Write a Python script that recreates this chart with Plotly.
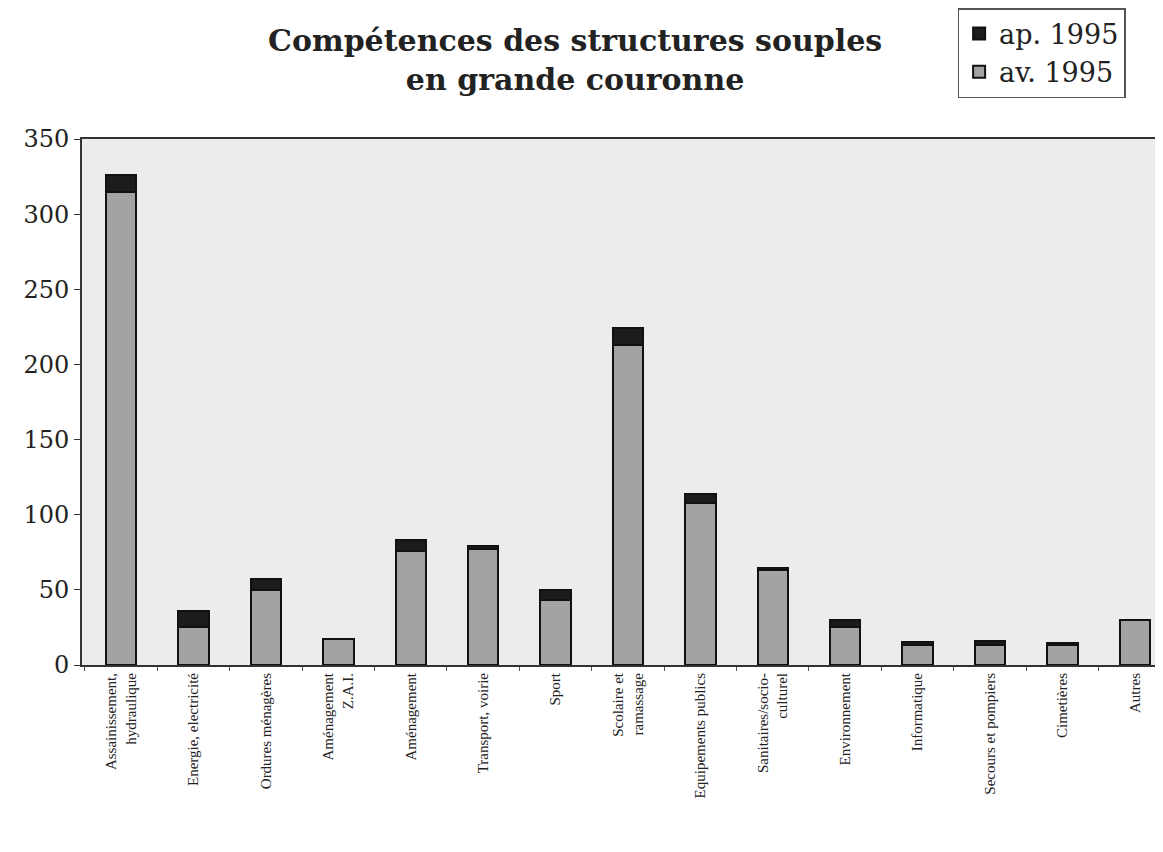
import plotly.graph_objects as go

categories = [
    "Assainissement,<br>hydraulique",
    "Energie, electricité",
    "Ordures ménagères",
    "Aménagement<br>Z.A.I.",
    "Aménagement",
    "Transport, voirie",
    "Sport",
    "Scolaire et<br>ramassage",
    "Equipements publics",
    "Sanitaires/socio-<br>culturel",
    "Environnement",
    "Informatique",
    "Secours et pompiers",
    "Cimetières",
    "Autres",
]
av_1995 = [315, 25, 50, 17, 76, 77, 43, 213, 108, 63, 25, 13, 13, 13, 30]
ap_1995 = [11, 11, 7, 0, 7, 2.5, 7, 11, 6, 1.5, 5, 2, 3, 1.5, 0]
y_ticks = [0, 50, 100, 150, 200, 250, 300, 350]

serif = "Liberation Serif, Times New Roman, serif"
wide_serif = "DejaVu Serif, serif"

fig = go.Figure()
fig.add_trace(go.Bar(
    x=categories, y=av_1995, name="av. 1995",
    marker=dict(color="#a3a3a3", line=dict(color="#111111", width=2)),
    width=0.42,
))
fig.add_trace(go.Bar(
    x=categories, y=ap_1995, name="ap. 1995",
    marker=dict(color="#1c1c1c", line=dict(color="#111111", width=2)),
    width=0.42,
))

fig.update_layout(
    barmode="stack",
    width=1155, height=844,
    margin=dict(l=74, r=0, t=131, b=187),
    paper_bgcolor="white",
    plot_bgcolor="#ececec",
    font=dict(family=serif, color="#222222"),
    showlegend=True,
    legend=dict(
        x=0.81, y=1.249, xanchor="left", yanchor="top",
        traceorder="reversed",
        bordercolor="#555555", borderwidth=1.5,
        bgcolor="white",
        font=dict(family=wide_serif, size=27, color="#222222"),
        itemsizing="constant",
        itemwidth=30,
        tracegroupgap=0,
    ),
    xaxis=dict(
        range=[-0.54, 14.39],
        showline=True, linecolor="#333333", linewidth=2,
        mirror=True,
        tickangle=-90,
        ticks="outside", tickson="boundaries", ticklen=4, tickcolor="#555555",
        tickfont=dict(family=serif, size=15, color="#222222"),
        showgrid=False,
    ),
    yaxis=dict(
        range=[0, 350],
        tickvals=y_ticks,
        showline=True, linecolor="#333333", linewidth=2,
        ticks="outside", ticklen=6, tickcolor="#333333",
        tickfont=dict(family=wide_serif, size=24, color="#222222"),
        showgrid=False, zeroline=False,
    ),
    annotations=[dict(
        text="<b>Compétences des structures souples<br>en grande couronne</b>",
        xref="paper", yref="paper", x=0.456, y=1.15,
        xanchor="center", yanchor="middle", showarrow=False,
        font=dict(family=wide_serif, size=30, color="#222222"),
    )],
)

fig.write_html("out.html")
